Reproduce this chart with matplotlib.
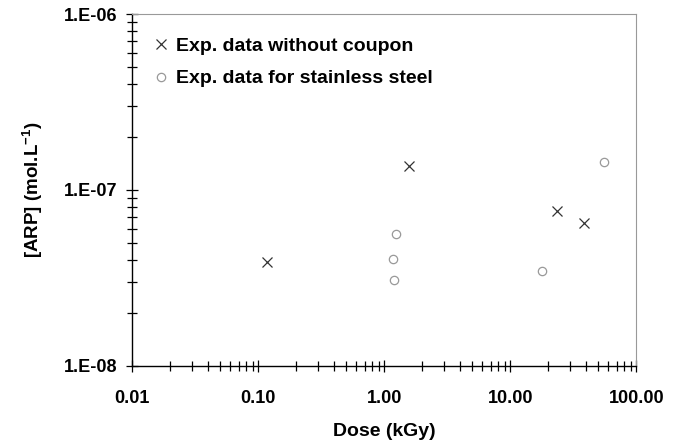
import matplotlib
matplotlib.use("Agg")
import matplotlib.pyplot as plt
from matplotlib.ticker import LogLocator, FixedLocator, NullFormatter

plt.rcParams['font.family'] = ['Liberation Sans', 'DejaVu Sans']
plt.rcParams['mathtext.default'] = 'regular'

# Dose (kGy) and [ARP] (mol/L)
dose_no_coupon = [0.117, 1.58, 23.6, 38.7]
arp_no_coupon = [3.9e-8, 1.37e-7, 7.6e-8, 6.5e-8]

dose_steel = [1.23, 1.17, 1.19, 17.7, 55.5]
arp_steel = [5.6e-8, 4.05e-8, 3.08e-8, 3.47e-8, 1.44e-7]

xticks = [0.01, 0.1, 1, 10, 100]
xticklabels = ["0.01", "0.10", "1.00", "10.00", "100.00"]
yticks = [1e-8, 1e-7, 1e-6]
yticklabels = ["1.E-08", "1.E-07", "1.E-06"]

fig = plt.figure(figsize=(6.83, 4.42), dpi=100)
ax = fig.add_axes([0.1937, 0.172, 0.7379, 0.7963])

ax.plot(dose_no_coupon, arp_no_coupon, linestyle='none', marker='x',
        markersize=7.5, markeredgewidth=0.9, color='#333333',
        label='Exp. data without coupon')
ax.plot(dose_steel, arp_steel, linestyle='none', marker='o',
        markersize=6, markeredgewidth=0.9, markerfacecolor='none',
        markeredgecolor='#999999', label='Exp. data for stainless steel')

ax.set_xscale('log')
ax.set_yscale('log')
ax.set_xlim(0.01, 100)
ax.set_ylim(1e-8, 1e-6)

ax.xaxis.set_major_locator(FixedLocator(xticks))
ax.set_xticklabels(xticklabels)
ax.yaxis.set_major_locator(FixedLocator(yticks))
ax.set_yticklabels(yticklabels)
ax.xaxis.set_minor_locator(LogLocator(base=10, subs=range(2, 10)))
ax.yaxis.set_minor_locator(LogLocator(base=10, subs=range(2, 10)))
ax.xaxis.set_minor_formatter(NullFormatter())
ax.yaxis.set_minor_formatter(NullFormatter())

for lbl in ax.get_xticklabels() + ax.get_yticklabels():
    lbl.set_fontweight('bold')
    lbl.set_fontsize(13)

ax.tick_params(which='major', direction='inout', length=9, width=0.9, color='black')
ax.tick_params(which='minor', direction='inout', length=7, width=0.9, color='black')
ax.tick_params(axis='x', which='major', pad=12.5)
ax.tick_params(axis='y', which='major', pad=6.5)

for side in ('left', 'bottom'):
    ax.spines[side].set_color('black')
    ax.spines[side].set_linewidth(1.0)
for side in ('top', 'right'):
    ax.spines[side].set_color('#999999')
    ax.spines[side].set_linewidth(0.8)

ax.set_xlabel('Dose (kGy)', fontsize=14, fontweight='bold', labelpad=11.5)
ax.set_ylabel('[ARP] (mol.L$^{-1}$)', fontsize=13.5, fontweight='bold', labelpad=13)

leg = ax.legend(loc='upper left', bbox_to_anchor=(0.030, 0.955), frameon=False,
                handlelength=0.6, handletextpad=0.45, labelspacing=0.75,
                borderaxespad=0, prop={'weight': 'bold', 'size': 14})

fig.savefig('out.png', dpi=100)
